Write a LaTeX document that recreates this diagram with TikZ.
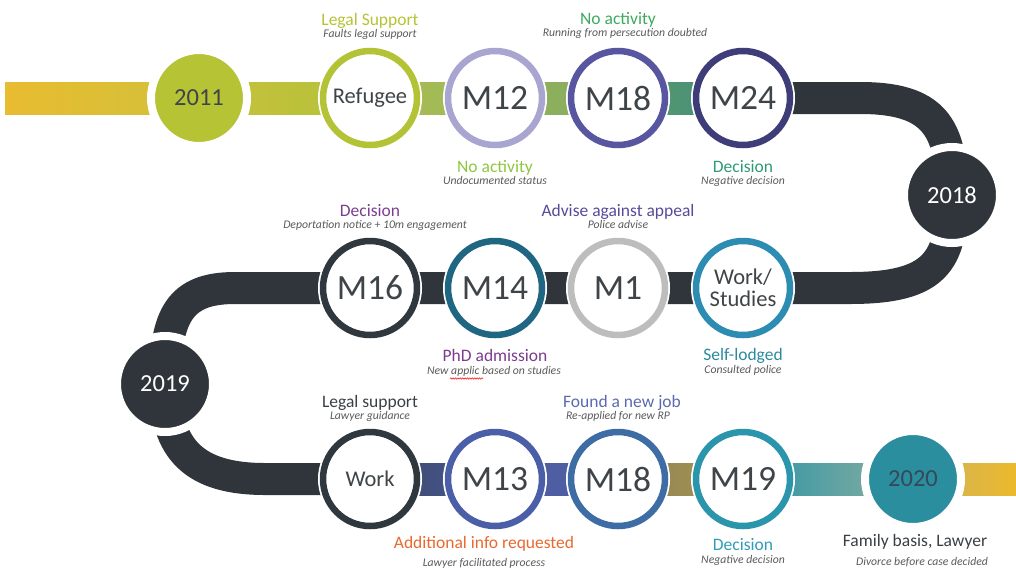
\documentclass[tikz,border=0pt]{standalone}
\usepackage{fontspec}
\setmainfont{Carlito}
\usetikzlibrary{backgrounds,decorations.pathmorphing,calc}
\definecolor{gold1}{HTML}{E9BC31}
\definecolor{gold2}{HTML}{D0C13A}
\definecolor{limefill}{HTML}{B5C334}
\definecolor{ga1}{HTML}{C9C23B}
\definecolor{ga2}{HTML}{B3C03A}
\definecolor{gb1}{HTML}{AABD50}
\definecolor{gb2}{HTML}{9DB95B}
\definecolor{gc1}{HTML}{93B25C}
\definecolor{gc2}{HTML}{84AC5F}
\definecolor{gd1}{HTML}{5E9E68}
\definecolor{gd2}{HTML}{3E897F}
\definecolor{ringRef}{HTML}{B3C335}
\definecolor{ringMa}{HTML}{A9A5D1}
\definecolor{ringMb}{HTML}{5956A1}
\definecolor{ringMc}{HTML}{3F3D79}
\definecolor{darkband}{HTML}{30353C}
\definecolor{ringMd}{HTML}{2F383E}
\definecolor{ringMe}{HTML}{1F6682}
\definecolor{ringMf}{HTML}{BDBDBD}
\definecolor{ringWS}{HTML}{2D8CB1}
\definecolor{ringMg}{HTML}{4B5FA9}
\definecolor{ringMh}{HTML}{3E6CA4}
\definecolor{ringMi}{HTML}{2B95AC}
\definecolor{tealfill}{HTML}{2A8E9F}
\definecolor{txt}{HTML}{3F4448}
\definecolor{subgray}{HTML}{5A5A5A}
\definecolor{ba1}{HTML}{3A4866}
\definecolor{ba2}{HTML}{4A5898}
\definecolor{bb1}{HTML}{5360A8}
\definecolor{bb2}{HTML}{4A5C9C}
\definecolor{bc1}{HTML}{8E8357}
\definecolor{bc2}{HTML}{A69450}
\definecolor{bd1}{HTML}{2A93A6}
\definecolor{bd2}{HTML}{8DB09F}
\definecolor{be1}{HTML}{CDB25E}
\definecolor{be2}{HTML}{EBB92C}
\definecolor{cLegal}{HTML}{B5C334}
\definecolor{cNoActTop}{HTML}{3DA95D}
\definecolor{cNoActLow}{HTML}{8DC63F}
\definecolor{cDecTop}{HTML}{2E9A78}
\definecolor{cDecMid}{HTML}{7B3E91}
\definecolor{cAdvise}{HTML}{574A9B}
\definecolor{cPhD}{HTML}{7A3C8E}
\definecolor{cSelf}{HTML}{2A8A9E}
\definecolor{cDarkTxt}{HTML}{3A3F44}
\definecolor{cJob}{HTML}{5B6AAE}
\definecolor{cAdd}{HTML}{E9682E}
\definecolor{cDecLow}{HTML}{2E9DB5}
\definecolor{yr20txt}{HTML}{34495A}
\begin{document}
\begin{tikzpicture}[x=1pt,y=-1pt,
  ring/.style={circle, minimum size=94pt, inner sep=0pt, fill=white, line width=6.5pt,
     text=txt, font=\fontsize{35.5}{36}\selectfont,
     preaction={draw=white, line width=10pt}},
  wordring/.style={ring, font=\fontsize{22.5}{22}\selectfont, align=center},
  year/.style={circle, minimum size=96pt, inner sep=0pt, draw=white, line width=8pt,
     font=\fontsize{24.5}{26}\selectfont},
  title/.style={anchor=base, font=\fontsize{17.5}{19}\selectfont},
  sub/.style={anchor=base, text=subgray, font=\fontsize{11.7}{13}\selectfont\itshape},
  band/.style={line width=32pt, line join=round}]
\useasboundingbox (0,0) rectangle (1016,571);

% ---- circles ----
\node[year, fill=limefill, text=txt] (y2011) at (199,98) {2011};
\node[wordring, draw=ringRef] (Ref) at (370,98) {Refugee};
\node[ring, draw=ringMa] (M12) at (495,98) {M12};
\node[ring, draw=ringMb] (M18a) at (618,98) {M18};
\node[ring, draw=ringMc] (M24) at (743,98) {M24};
\node[year, fill=darkband, text=white] (y2018) at (952,195) {2018};

\node[wordring, draw=ringWS] (WS) at (743,288) {Work/\\Studies};
\node[ring, draw=ringMf] (M1) at (618,288) {M1};
\node[ring, draw=ringMe] (M14) at (495,288) {M14};
\node[ring, draw=ringMd] (M16) at (370,288) {M16};
\node[year, fill=darkband, text=white] (y2019) at (165,384) {2019};

\node[wordring, draw=ringMd] (Work) at (370,479) {Work};
\node[ring, draw=ringMg] (M13) at (495,479) {M13};
\node[ring, draw=ringMh] (M18b) at (618,479) {M18};
\node[ring, draw=ringMi] (M19) at (743,479) {M19};
\node[year, fill=tealfill, text=yr20txt] (y2020) at (913,479) {2020};
\coordinate (leftend) at (5,98);
\coordinate (rightend) at (1016,479);

% ---- bands ----
\begin{pgfonlayer}{background}
\shade[left color=gold1, right color=gold2] ($(leftend)+(0,-16)$) rectangle ($(y2011.center)+(0,16)$);
\shade[left color=ga1, right color=ga2] ($(y2011.center)+(0,-16)$) rectangle ($(Ref.center)+(0,16)$);
\shade[left color=gb1, right color=gb2] ($(Ref.center)+(0,-16)$) rectangle ($(M12.center)+(0,16)$);
\shade[left color=gc1, right color=gc2] ($(M12.center)+(0,-16)$) rectangle ($(M18a.center)+(0,16)$);
\shade[left color=gd1, right color=gd2] ($(M18a.center)+(0,-16)$) rectangle ($(M24.center)+(0,16)$);
\draw[band, darkband] (M24.center) -- (860,98) .. controls (932,98) and (952,125) .. (y2018.center)
   .. controls (952,262) and (935,288) .. (850,288) -- (WS.center) -- (M16.center)
   -- (235,288) .. controls (180,288) and (165,315) .. (y2019.center)
   .. controls (165,450) and (195,479) .. (265,479) -- (Work.center);
\shade[left color=ba1, right color=ba2] ($(Work.center)+(0,-16)$) rectangle ($(M13.center)+(0,16)$);
\shade[left color=bb1, right color=bb2] ($(M13.center)+(0,-16)$) rectangle ($(M18b.center)+(0,16)$);
\shade[left color=bc1, right color=bc2] ($(M18b.center)+(0,-16)$) rectangle ($(M19.center)+(0,16)$);
\shade[left color=bd1, right color=bd2] ($(M19.center)+(0,-16)$) rectangle ($(y2020.center)+(0,16)$);
\shade[left color=be1, right color=be2] ($(y2020.center)+(0,-16)$) rectangle ($(rightend)+(0,16)$);
\end{pgfonlayer}

% ---- labels: top row ----
\node[title, text=cLegal] (lRef) at (370,25) {Legal Support};
\node[sub] (sRef) at (370,37) {Faults legal support};
\node[title, text=cNoActTop] (lM18a) at (618,24) {No activity};
\node[sub] (sM18a) at (625,36) {Running from persecution doubted};
\node[title, text=cNoActLow] (lM12) at (495,172) {No activity};
\node[sub] (sM12) at (495,184) {Undocumented status};
\node[title, text=cDecTop] (lM24) at (743,172) {Decision};
\node[sub] (sM24) at (743,184) {Negative decision};

% ---- labels: middle row ----
\node[title, text=cDecMid] (lM16) at (370,216) {Decision};
\node[sub] (sM16) at (375,228) {Deportation notice + 10m engagement};
\node[title, text=cAdvise] (lM1) at (618,216) {Advise against appeal};
\node[sub] (sM1) at (618,228) {Police advise};
\node[title, text=cPhD] (lM14) at (495,361) {PhD admission};
\node[sub] (sM14) at (494,374) {New applic based on studies};
\draw[red, line width=0.5pt, decorate, decoration={snake, amplitude=0.7pt, segment length=2.4pt}]
   (450,378.5) -- (483,378.5);
\node[title, text=cSelf] (lWS) at (743,360) {Self-lodged};
\node[sub] (sWS) at (743,373) {Consulted police};

% ---- labels: bottom row ----
\node[title, text=cDarkTxt] (lWork) at (370,407) {Legal support};
\node[sub] (sWork) at (370,419) {Lawyer guidance};
\node[title, text=cJob] (lM18b) at (622,407) {Found a new job};
\node[sub] (sM18b) at (618,419) {Re-applied for new RP};
\node[title, text=cAdd] (lM13) at (484,548) {Additional info requested};
\node[sub] (sM13) at (484,566) {Lawyer facilitated process};
\node[title, text=cDecLow] (lM19) at (743,550) {Decision};
\node[sub] (sM19) at (743,563) {Negative decision};
\node[title, text=cDarkTxt] (l2020) at (915,546) {Family basis, Lawyer};
\node[sub] (s2020) at (922,565) {Divorce before case decided};
\end{tikzpicture}
\end{document}
